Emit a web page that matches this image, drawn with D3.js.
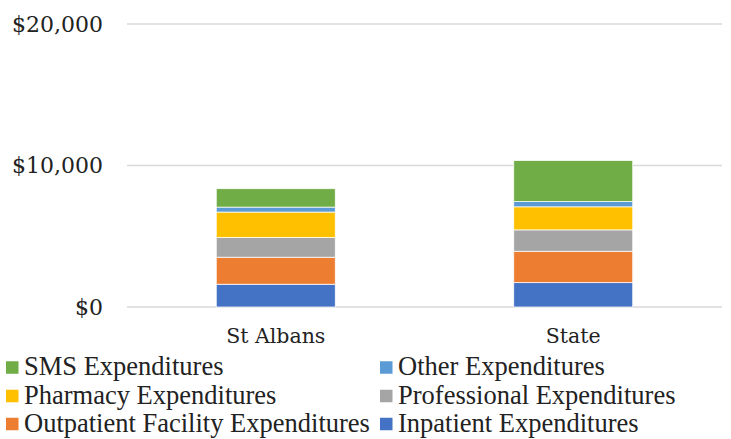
<!DOCTYPE html>
<html>
<head>
<meta charset="utf-8">
<script src="https://cdn.jsdelivr.net/npm/d3@7"></script>
<style>
  html, body { margin: 0; padding: 0; background: #fff; }
  svg { display: block; }
</style>
</head>
<body>
<svg id="chart" width="731" height="439"></svg>
<script>
// Per-member expenditure breakdown, stacked from bottom to top
const categories = ["St Albans", "State"];
const seriesNames = [
  "Inpatient Expenditures",
  "Outpatient Facility Expenditures",
  "Professional Expenditures",
  "Pharmacy Expenditures",
  "Other Expenditures",
  "SMS Expenditures"
];
const inpatient    = [1610, 1720];
const outpatient   = [1910, 2220];
const professional = [1390, 1510];
const pharmacy     = [1800, 1630];
const other        = [350, 375];
const sms          = [1300, 2900];
const seriesColors = ["#4472C4", "#ED7D31", "#A5A5A5", "#FFC000", "#5B9BD5", "#70AD47"];
const yTicks = [0, 10000, 20000];
// Legend reading order (two columns, three rows)
const legendOrder = [
  "SMS Expenditures", "Other Expenditures",
  "Pharmacy Expenditures", "Professional Expenditures",
  "Outpatient Facility Expenditures", "Inpatient Expenditures"
];

const axisFont = "'DejaVu Serif', serif";
const legendFont = "'Liberation Serif', serif";

const seriesValues = [inpatient, outpatient, professional, pharmacy, other, sms];
const rows = categories.map((c, i) => {
  const r = { category: c };
  seriesNames.forEach((s, k) => { r[s] = seriesValues[k][i]; });
  return r;
});
const stacked = d3.stack().keys(seriesNames)(rows);
const color = d3.scaleOrdinal().domain(seriesNames).range(seriesColors);

const svg = d3.select("#chart");
const plot = { left: 127, right: 722, top: 24, bottom: 307 };

const x = d3.scaleBand()
  .domain(categories)
  .range([plot.left, plot.right])
  .paddingInner(0.6)
  .paddingOuter(0.3);

const y = d3.scaleLinear()
  .domain([0, 20000])
  .range([plot.bottom, plot.top]);

// Horizontal gridlines
svg.append("g")
  .selectAll("line")
  .data(yTicks)
  .join("line")
  .attr("x1", plot.left)
  .attr("x2", plot.right)
  .attr("y1", d => y(d))
  .attr("y2", d => y(d))
  .attr("stroke", "#d9d9d9")
  .attr("stroke-width", 1.5);

function styleAxisText(size) {
  return g => {
    g.attr("font-family", axisFont).attr("font-size", size);
    g.select(".domain").remove();
    g.selectAll("text")
      .style("font-family", axisFont)
      .style("font-size", size + "px")
      .style("fill", "#222");
  };
}

// Y axis labels
const yAxis = d3.axisLeft(y)
  .tickValues(yTicks)
  .tickSize(0)
  .tickPadding(0)
  .tickFormat(d => "$" + d3.format(",")(d));
svg.append("g")
  .attr("transform", `translate(${plot.left - 24},0)`)
  .call(yAxis)
  .call(styleAxisText(22));

// Stacked bars
svg.append("g")
  .selectAll("g")
  .data(stacked)
  .join("g")
  .attr("fill", d => color(d.key))
  .selectAll("rect")
  .data(d => d)
  .join("rect")
  .attr("x", d => x(d.data.category))
  .attr("width", x.bandwidth())
  .attr("y", d => y(d[1]))
  .attr("height", d => y(d[0]) - y(d[1]))
  .attr("stroke", "#ffffff")
  .attr("stroke-width", 0.75);

// Category axis
const xAxis = d3.axisBottom(x).tickSize(0).tickPadding(0);
svg.append("g")
  .attr("transform", `translate(0,${plot.bottom + 21})`)
  .call(xAxis)
  .call(styleAxisText(20.5));

// Legend
const legend = svg.append("g")
  .attr("font-family", legendFont)
  .attr("font-size", 26.5);
const colX = [6, 380];
const rowY = [367.5, 396, 424];
const items = legend.selectAll("g")
  .data(legendOrder)
  .join("g")
  .attr("transform", (d, i) => `translate(${colX[i % 2]},${rowY[Math.floor(i / 2)]})`);
items.append("rect")
  .attr("x", 0)
  .attr("y", -6.25)
  .attr("width", 12.5)
  .attr("height", 12.5)
  .attr("fill", d => color(d));
items.append("text")
  .attr("x", 18)
  .attr("y", 0)
  .attr("dy", "0.3em")
  .style("font-family", legendFont)
  .style("font-size", "26.5px")
  .style("fill", "#222")
  .text(d => d);
</script>
</body>
</html>
